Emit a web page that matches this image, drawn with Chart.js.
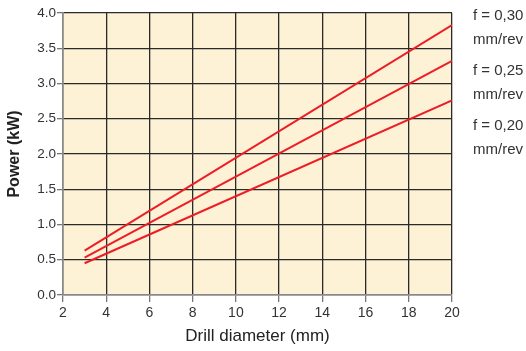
<!DOCTYPE html>
<html>
<head>
<meta charset="utf-8">
<script src="https://cdn.jsdelivr.net/npm/chart.js@4/dist/chart.umd.min.js"></script>
<style>
  html, body { margin: 0; padding: 0; background: #fff; }
  #wrap { width: 526px; height: 351px; }
</style>
</head>
<body>
<div id="wrap"><canvas id="powerChart" width="526" height="351"></canvas></div>
<script>
// drill diameter (mm) at start and end of each curve
const diameters = [3, 20];
// power (kW) for each feed
const feed030 = [0.63, 3.83];
const feed025 = [0.53, 3.32];
const feed020 = [0.45, 2.76];
const feedLabels = ['f = 0,30', 'f = 0,25', 'f = 0,20'];

const ctx = document.getElementById('powerChart').getContext('2d');
const fontFamily = 'Arial, "Liberation Sans", Helvetica, sans-serif';

function toPoints(vals) {
  return diameters.map((d, i) => ({ x: d, y: vals[i] }));
}

// beige plot background
const plotBg = {
  id: 'plotBg',
  beforeDraw(chart) {
    const a = chart.chartArea;
    const c = chart.ctx;
    c.save();
    c.fillStyle = '#fdf2d6';
    c.fillRect(a.left, a.top, a.right - a.left, a.bottom - a.top);
    c.restore();
  }
};

// feed labels on the right side
const feedText = {
  id: 'feedText',
  afterDraw(chart) {
    const c = chart.ctx;
    const x = chart.chartArea.right + 21;
    const rows = [16, 71, 126];
    c.save();
    c.fillStyle = '#333';
    c.font = '15px ' + fontFamily;
    c.textBaseline = 'middle';
    feedLabels.forEach((t, i) => {
      c.fillText(t, x, rows[i]);
      c.fillText('mm/rev', x, rows[i] + 24);
    });
    c.restore();
  }
};

const lineStyle = {
  borderColor: '#ee1c25',
  borderWidth: 2,
  pointRadius: 0,
  fill: false,
  tension: 0
};

new Chart(ctx, {
  type: 'line',
  data: {
    datasets: [
      Object.assign({ label: feedLabels[0], data: toPoints(feed030) }, lineStyle),
      Object.assign({ label: feedLabels[1], data: toPoints(feed025) }, lineStyle),
      Object.assign({ label: feedLabels[2], data: toPoints(feed020) }, lineStyle)
    ]
  },
  options: {
    responsive: false,
    animation: false,
    layout: { padding: { top: 13, right: 74, left: 0, bottom: 0 } },
    plugins: {
      legend: { display: false },
      tooltip: { enabled: false }
    },
    scales: {
      x: {
        type: 'linear',
        min: 2,
        max: 20,
        ticks: {
          stepSize: 2,
          color: '#333',
          font: { family: fontFamily, size: 14 },
          padding: 3
        },
        grid: { color: '#2a2a2a', lineWidth: 1.3, tickLength: 7, tickColor: '#777' },
        border: { color: '#888', width: 1.5 },
        title: {
          display: true,
          text: 'Drill diameter (mm)',
          color: '#222',
          font: { family: fontFamily, size: 17 },
          padding: { top: 4 }
        },
        afterFit(scale) { scale.height = 56; }
      },
      y: {
        min: 0,
        max: 4,
        ticks: {
          stepSize: 0.5,
          color: '#333',
          font: { family: fontFamily, size: 13.5 },
          padding: 1,
          callback: v => v.toFixed(1)
        },
        grid: { color: '#2a2a2a', lineWidth: 1.3, tickLength: 6, tickColor: '#777' },
        border: { color: '#888', width: 1.5 },
        title: {
          display: true,
          text: 'Power (kW)',
          color: '#222',
          font: { family: fontFamily, size: 16, weight: 'bold' },
          padding: { top: 5, bottom: 4 }
        },
        afterFit(scale) { scale.width = 63; }
      }
    }
  },
  plugins: [plotBg, feedText]
});
</script>
</body>
</html>
